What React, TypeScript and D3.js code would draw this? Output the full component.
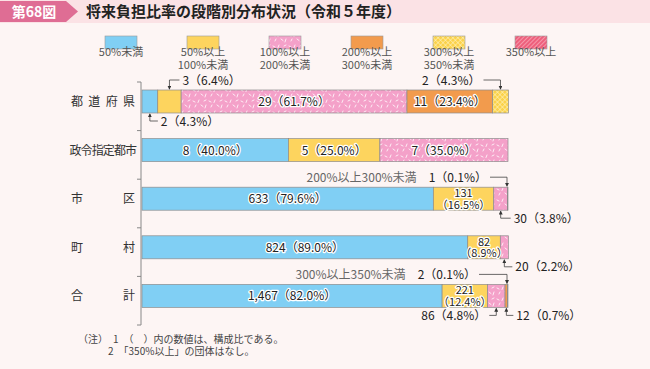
import React from "react";
import * as d3 from "d3";

// 団体区分
const categories = ["都道府県", "政令指定都市", "市区", "町村", "合計"];
// 将来負担比率の段階
const levels = ["50%未満", "50%以上\n100%未満", "100%以上\n200%未満", "200%以上\n300%未満", "300%以上\n350%未満", "350%以上"];
// 団体数
const counts = [
  [2, 3, 29, 11, 2, 0],
  [8, 5, 7, 0, 0, 0],
  [633, 131, 30, 1, 0, 0],
  [824, 82, 20, 0, 0, 0],
  [1467, 221, 86, 12, 2, 0],
];
// 構成比(%)
const shares = [
  [4.3, 6.4, 61.7, 23.4, 4.3, 0],
  [40.0, 25.0, 35.0, 0, 0, 0],
  [79.6, 16.5, 3.8, 0.1, 0, 0],
  [89.0, 8.9, 2.2, 0, 0, 0],
  [82.0, 12.4, 4.8, 0.7, 0.1, 0],
];

// 帯の中に書くラベル (row, seg, 2行かどうか)
const inside = [
  { row: 0, seg: 2, wrap: false },
  { row: 0, seg: 3, wrap: false },
  { row: 1, seg: 0, wrap: false },
  { row: 1, seg: 1, wrap: false },
  { row: 1, seg: 2, wrap: false },
  { row: 2, seg: 0, wrap: false },
  { row: 2, seg: 1, wrap: true },
  { row: 3, seg: 0, wrap: false },
  { row: 3, seg: 1, wrap: true },
  { row: 4, seg: 0, wrap: false },
  { row: 4, seg: 1, wrap: true },
];

// 引き出し線付きラベル
const callouts = [
  { row: 0, seg: 1, side: "top", dir: 1, len: 10, prefix: "" },
  { row: 0, seg: 0, side: "bottom", dir: 1, len: 8, prefix: "" },
  { row: 0, seg: 4, side: "top", dir: -1, len: 17, prefix: "" },
  { row: 2, seg: 3, side: "top", dir: -1, len: 17, prefix: "200%以上300%未満" },
  { row: 2, seg: 2, side: "bottom", dir: 1, len: 10, prefix: "" },
  { row: 3, seg: 2, side: "bottom", dir: 1, len: 8, prefix: "" },
  { row: 4, seg: 4, side: "top", dir: -1, len: 28, prefix: "300%以上350%未満" },
  { row: 4, seg: 2, side: "bottom", dir: -1, len: 7, prefix: "" },
  { row: 4, seg: 3, side: "bottom", dir: 1, len: 7, prefix: "" },
];

const fills = ["#80cff4", "#fdd45e", "url(#pinkDash)", "#f29b4d", "url(#yellowCheck)", "url(#redStripe)"];
const FONT = "'Noto Sans CJK JP', 'Noto Sans', sans-serif";

const W = 650;
const H = 369;

const fmt = d3.format(",");
const label = (r: number, s: number) => `${fmt(counts[r][s])}（${shares[r][s].toFixed(1)}%）`;

export default function App() {
  const x = d3.scaleLinear().domain([0, 100]).range([142, 508]);
  const y = d3.scaleBand().domain(categories).range([82, 325]);
  const barH = 23;
  const barTop = (c: string) => (y(c) as number) + 8;

  const legendX = d3.scaleBand().domain(levels).range([80, 572]);

  const rows = categories.map((c, r) => {
    let acc = 0;
    return shares[r].map((v, s) => {
      const x0 = acc;
      acc += v;
      return { c, r, s, x0, x1: acc };
    });
  });

  const segCenter = (r: number, s: number) => {
    const d = rows[r][s];
    const cx = (x(d.x0) + x(d.x1)) / 2;
    return Math.min(cx, x(100) - 1);
  };

  const haloText = {
    fill: "#222",
    stroke: "#fff",
    strokeWidth: 2.5,
    paintOrder: "stroke",
    strokeLinejoin: "round",
  } as React.CSSProperties;

  return (
    <svg width={W} height={H} style={{ position: "absolute", left: 0, top: 0, fontFamily: FONT }}>
      <defs>
        <pattern id="pinkDash" width={16} height={11} patternUnits="userSpaceOnUse">
          <rect width={16} height={11} fill="#f4a1c9" />
          <g stroke="#fff" strokeWidth={0.8} strokeLinecap="round">
            <line x1={1} y1={2} x2={3} y2={3} />
            <line x1={7} y1={1} x2={6} y2={3.5} />
            <line x1={12} y1={2} x2={14} y2={1} />
            <line x1={3} y1={8} x2={4} y2={6} />
            <line x1={9} y1={6} x2={11} y2={7.5} />
            <line x1={14} y1={6} x2={13} y2={9} />
          </g>
        </pattern>
        <pattern id="yellowCheck" width={3.5} height={3.5} patternUnits="userSpaceOnUse" patternTransform="rotate(45)">
          <rect width={3.5} height={3.5} fill="#fbd24a" />
          <line x1={0} y1={0} x2={3.5} y2={0} stroke="#fff6cc" strokeWidth={1} />
          <line x1={0} y1={0} x2={0} y2={3.5} stroke="#fff6cc" strokeWidth={1} />
        </pattern>
        <pattern id="redStripe" width={3} height={3} patternUnits="userSpaceOnUse" patternTransform="rotate(45)">
          <rect width={3} height={3} fill="#ee5f7c" />
          <line x1={0} y1={0} x2={0} y2={3} stroke="#fbd0d8" strokeWidth={1} />
        </pattern>
        <marker id="arrow" viewBox="0 0 6 6" refX={5} refY={3} markerWidth={5} markerHeight={5} orient="auto">
          <path d="M0,0 L6,3 L0,6 z" fill="#333" />
        </marker>
      </defs>

      <rect width={W} height={H} fill="#fdf5f4" />

      {/* 見出し */}
      <rect width={W} height={23} fill="#fbe2e5" />
      <path d="M0,1 H66 L78,11.5 L66,22 H0 Z" fill="#df6d94" />
      <text x={34} y={17} textAnchor="middle" fill="#fff" fontSize={14} fontWeight={700}>第68図</text>
      <text x={86} y={17} fill="#222" fontSize={15} fontWeight={700}>将来負担比率の段階別分布状況（令和５年度）</text>

      {/* 凡例 */}
      {levels.map((lv, i) => {
        const cx = (legendX(lv) as number) + legendX.bandwidth() / 2;
        return (
          <g key={lv}>
            <rect x={cx - 16} y={36} width={32} height={13} fill={fills[i]} stroke="#999" strokeWidth={0.6} />
            {lv.split("\n").map((t, k) => (
              <text key={k} x={cx} y={56 + k * 13} textAnchor="middle" fontSize={11} fill="#555">{t}</text>
            ))}
          </g>
        );
      })}

      {/* 軸 */}
      <line x1={141} x2={141} y1={82} y2={325} stroke="#888" strokeWidth={1} />
      {[...categories.map((c) => y(c) as number), 325].map((t, i) => (
        <line key={i} x1={137} x2={141} y1={t} y2={t} stroke="#888" strokeWidth={1} />
      ))}

      {/* 区分ラベル(均等割付) */}
      {categories.map((c) => {
        const chars = Array.from(c);
        const cy = barTop(c) + barH / 2 + 4.5;
        const pos = d3.scaleLinear().domain([0, chars.length - 1]).range([chars.length === 6 ? 75.5 : 77, chars.length === 6 ? 131 : 129]);
        return chars.map((ch, k) => (
          <text key={c + k} x={pos(k)} y={cy} textAnchor="middle" fontSize={12} fill="#333">
            {ch}
          </text>
        ));
      })}

      {/* 帯 */}
      {rows.map((segs) =>
        segs
          .filter((d) => d.x1 > d.x0)
          .map((d) => (
            <rect
              key={d.r + "-" + d.s}
              x={x(d.x0)}
              y={barTop(d.c)}
              width={x(d.x1) - x(d.x0)}
              height={barH}
              fill={fills[d.s]}
              stroke="#8c8c8c"
              strokeWidth={0.7}
            />
          ))
      )}

      {/* 帯の中のラベル */}
      {inside.map(({ row, seg, wrap }) => {
        const cx = segCenter(row, seg);
        const cy = barTop(categories[row]) + barH / 2;
        if (!wrap) {
          return (
            <text key={row + "i" + seg} x={cx} y={cy + 4.5} textAnchor="middle" fontSize={12} style={haloText}>
              {label(row, seg)}
            </text>
          );
        }
        return (
          <g key={row + "i" + seg}>
            <text x={cx} y={cy - 1.5} textAnchor="middle" fontSize={11} style={haloText}>{fmt(counts[row][seg])}</text>
            <text x={cx} y={cy + 10} textAnchor="middle" fontSize={11} style={haloText}>（{shares[row][seg].toFixed(1)}%）</text>
          </g>
        );
      })}

      {/* 引き出し線ラベル */}
      {callouts.map(({ row, seg, side, dir, len, prefix }) => {
        const ax = segCenter(row, seg);
        const top = barTop(categories[row]);
        const edge = side === "top" ? top : top + barH;
        const ly = side === "top" ? top - 10 : top + barH + 8;
        const ex = ax + dir * len;
        const tx = ex + dir * 3;
        return (
          <g key={row + "c" + seg}>
            <path
              d={`M${ex},${ly} H${ax} V${side === "top" ? edge - 1 : edge + 1}`}
              fill="none"
              stroke="#444"
              strokeWidth={0.8}
              markerEnd="url(#arrow)"
            />
            <text x={tx} y={ly + 4.5} textAnchor={dir > 0 ? "start" : "end"} fontSize={12} fill="#222">
              {prefix && <tspan fill="#666">{prefix}　</tspan>}
              {label(row, seg)}
            </text>
          </g>
        );
      })}

      {/* 注 */}
      <text x={78} y={343} fontSize={10} fill="#444">（注）　1　（　）内の数値は、構成比である。</text>
      <text x={108} y={355} fontSize={10} fill="#444">2　「350%以上」の団体はなし。</text>
    </svg>
  );
}
